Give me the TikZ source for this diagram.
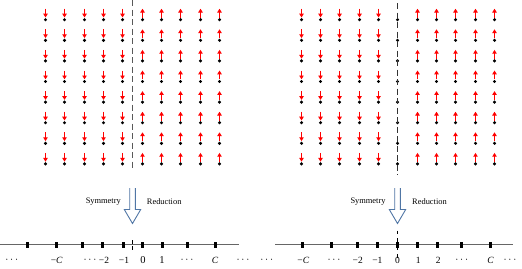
\documentclass[tikz,border=0pt]{standalone}
\usepackage{fontspec}
\setmainfont{Liberation Serif}
\usetikzlibrary{arrows.meta}
\definecolor{steel}{RGB}{80,118,165}
\tikzset{
  spin/.style={red, line width=1pt, -{Triangle[length=3.8pt,width=4.4pt]}},
  site/.style={circle, fill=black, inner sep=0pt, minimum size=3.4pt},
  tick/.style={fill=black, inner sep=0pt, minimum width=3pt, minimum height=6pt},
  numline/.style={gray!80!black, line width=0.6pt},
  bigarrow/.style={draw=steel, line width=0.9pt, fill=white},
  lbl/.style={font=\fontsize{9.5}{9.5}\selectfont, inner sep=0pt},
  dlbl/.style={font=\fontsize{11}{11}\selectfont, inner sep=0pt},
  biglbl/.style={font=\fontsize{10.5}{10.5}\selectfont, inner sep=0pt},
  wlbl/.style={font=\fontsize{8.4}{8.4}\selectfont, inner sep=0pt},
}
\begin{document}
\begin{tikzpicture}[x=1pt,y=-1pt]
\useasboundingbox (0,0) rectangle (522,268);
% ---------- left lattice ----------
\foreach \j in {0,...,7}{
  \foreach \i in {0,...,9}{
    \pgfmathsetmacro{\xx}{round(45+\i*19.35)+0.5}
    \pgfmathsetmacro{\yy}{19.7+\j*20.6}
    \node[site] at (\xx,\yy) {};
    \ifnum\i<5
      \draw[spin] (\xx,\yy-11) -- (\xx,\yy-2.2);
    \else
      \draw[spin] (\xx,\yy-2.2) -- (\xx,\yy-11);
    \fi
  }
}
\coordinate (ldt) at (132.5,0);
\coordinate (ldb) at (132.5,170);
\draw[gray!70!black, line width=0.9pt, dash pattern=on 6pt off 3.5pt] (ldt) -- (ldb);
% ---------- right lattice ----------
\foreach \j in {0,...,7}{
  \foreach \i in {0,...,10}{
    \pgfmathsetmacro{\xx}{round(300.7+\i*19.33)+0.5}
    \pgfmathsetmacro{\yy}{19.7+\j*20.6}
    \node[site] at (\xx,\yy) {};
    \ifnum\i<5
      \draw[spin] (\xx,\yy-11) -- (\xx,\yy-2.2);
    \else\ifnum\i>5
      \draw[spin] (\xx,\yy-2.2) -- (\xx,\yy-11);
    \fi\fi
  }
}
\coordinate (rdt) at (397.5,3);
\coordinate (rdb) at (397.5,175);
\draw[black!80, line width=0.9pt, dash pattern=on 6pt off 3.5pt] (rdt) -- (rdb);
% ---------- block arrows ----------
\foreach \cx in {132.5,397.5}{
  \draw[bigarrow] (\cx-2.8,188) -- (\cx-2.8,209.5) -- (\cx-8.2,209.5) -- (\cx,223.5)
    -- (\cx+8.2,209.5) -- (\cx+2.8,209.5) -- (\cx+2.8,188);
}
\node[wlbl] (sl) at (103.3,201.5) {Symmetry};
\node[wlbl] (rl) at (164.2,201.5) {Reduction};
\node[wlbl] (sr) at (368,201.5) {Symmetry};
\node[wlbl] (rr) at (429.5,201.5) {Reduction};
% ---------- left number line ----------
\coordinate (la) at (0,244.7);
\coordinate (lb) at (239,244.7);
\draw[numline] (la) -- (lb);
\foreach \t in {27.7,56.7,82.3,102.7,123,142.7,162.3,187.3,215.3}{
  \node[tick] at (\t,244.7) {};
}
\coordinate (lzt) at (132.5,240.3);
\coordinate (lzb) at (132.5,249.5);
\draw[black, line width=0.7pt, dash pattern=on 3.6pt off 2pt] (lzt) -- (lzb);
\node[dlbl] at (11.7,260.5) {$\cdots$};
\node[lbl] at (56.7,260.5) {−\textit{C}};
\node[dlbl] at (90,260.5) {$\cdots$};
\node[lbl] at (104,260.5) {−2};
\node[lbl] at (124,260.5) {−1};
\node[biglbl] at (143,260) {0};
\node[biglbl] at (162,260) {1};
\node[dlbl] at (187,260.5) {$\cdots$};
\node[lbl] at (215,260.5) {\textit{C}};
\node[dlbl] at (243,260.5) {$\cdots$};
% ---------- right number line ----------
\coordinate (ra) at (275,244.7);
\coordinate (rb) at (513,244.7);
\draw[numline] (ra) -- (rb);
\foreach \t in {302.7,331,357.3,377.3,397.5,417.3,437.7,461,490}{
  \node[tick] at (\t,244.7) {};
}
\coordinate (rzt) at (397.5,230.5);
\coordinate (rzb) at (397.5,262);
\draw[black, line width=0.7pt, dash pattern=on 3.4pt off 4.5pt] (rzt) -- (rzb);
\node[dlbl] at (266.7,260.5) {$\cdots$};
\node[lbl] at (303.3,260.5) {−\textit{C}};
\node[dlbl] at (334,260.5) {$\cdots$};
\node[lbl] at (357.7,260.5) {−2};
\node[lbl] at (377.3,260.5) {−1};
\node[lbl] at (397.5,260.5) {0};
\node[lbl] at (418.3,260.5) {1};
\node[lbl] at (438.3,260.5) {2};
\node[dlbl] at (461.7,260.5) {$\cdots$};
\node[lbl] at (490.7,260.5) {\textit{C}};
\node[dlbl] at (510,260.5) {$\cdots$};
\end{tikzpicture}
\end{document}
